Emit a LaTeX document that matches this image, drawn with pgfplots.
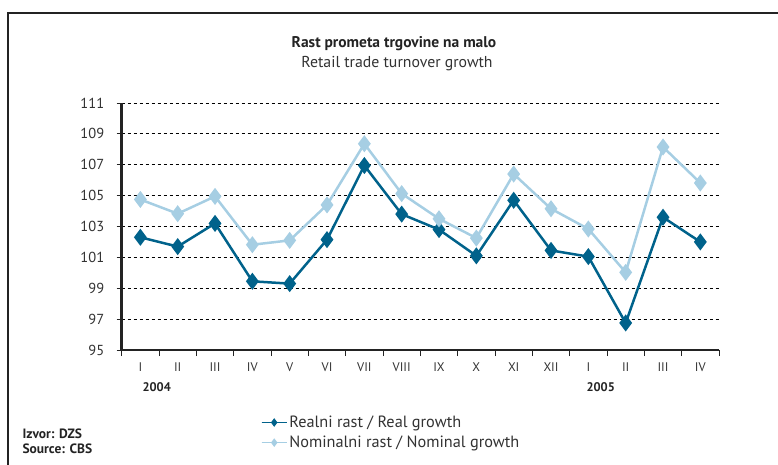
\documentclass[border=0pt]{standalone}
\usepackage{pgfplots}
\pgfplotsset{compat=1.18}
\usepackage{fontspec}
\setmainfont{PT Sans}
\definecolor{realc}{RGB}{0,98,139}
\definecolor{nomc}{RGB}{166,206,227}
\definecolor{axc}{RGB}{35,35,35}
\definecolor{txc}{RGB}{50,50,50}
\pgfplotstableread{
x real nom
0 102.3 104.75
1 101.7 103.83
2 103.2 104.95
3 99.45 101.82
4 99.3 102.1
5 102.15 104.4
6 106.95 108.36
7 103.8 105.13
8 102.8 103.5
9 101.1 102.25
10 104.7 106.4
11 101.45 104.15
12 101.05 102.84
13 96.75 100.03
14 103.6 108.15
15 102.0 105.82
}\datatable
\begin{document}
\begin{tikzpicture}[x=1pt,y=1pt]
\draw[line width=2.5pt, axc] (8,-30) -- (8,451) -- (820,451);
\node[font=\bfseries\fontsize{15.5}{17}\selectfont, text=axc] at (394,420) {Rast prometa trgovine na malo};
\node[font=\fontsize{15.8}{17}\selectfont, text=txc] at (397,400) {Retail trade turnover growth};
\begin{axis}[
  at={(121.7pt,114pt)}, anchor=south west,
  scale only axis, width=597.3pt, height=247pt,
  xmin=-0.5, xmax=15.5, ymin=95, ymax=111,
  axis x line*=bottom, axis y line*=left,
  axis line style={-, line width=2.5pt, axc},
  xtick={0,...,15},
  xticklabels={I,II,III,IV,V,VI,VII,VIII,IX,X,XI,XII,I,II,III,IV},
  major x tick style={draw=none},
  minor xtick={-0.5,0.5,...,15.5},
  minor x tick style={line width=1pt, axc},
  minor tick length=6pt,
  ytick={95,97,...,111},
  major y tick style={line width=1pt, axc},
  major tick length=5pt,
  tick align=outside,
  ymajorgrids,
  grid style={black, dashed, line width=0.8pt, dash pattern=on 3pt off 3pt},
  /pgf/number format/assume math mode=true,
  yticklabel style={font=\fontsize{14.5}{16}\selectfont, text=txc, xshift=-9pt},
  xticklabel style={font=\fontsize{12.5}{14}\selectfont, text=txc, yshift=-4pt},
  legend style={at={(0.228,-0.25)}, anchor=north west, draw=none, fill=none,
    font=\fontsize{16.3}{18}\selectfont, text=txc, row sep=3pt},
  legend cell align=left,
  legend image code/.code={\draw[#1, line width=1.3pt] (0pt,0pt) -- (25pt,0pt); \draw[#1, line width=1pt, mark size=3.5pt, mark repeat=2, mark phase=2] plot coordinates {(0pt,0pt) (12.5pt,0pt) (25pt,0pt)};},
]
\addplot[realc, line width=2.5pt, mark=diamond*, mark size=6.5pt, mark options={solid}] table[x=x, y=real] {\datatable};
\addlegendentry{Realni rast / Real growth}
\addplot[nomc, line width=2.5pt, mark=diamond*, mark size=6.5pt, mark options={solid}] table[x=x, y=nom] {\datatable};
\addlegendentry{Nominalni rast / Nominal growth}
\end{axis}
\node[anchor=west, font=\bfseries\fontsize{12.5}{14}\selectfont, text=axc] at (139,77) {2004};
\node[anchor=west, font=\bfseries\fontsize{12.5}{14}\selectfont, text=axc] at (583,77) {2005};
\node[anchor=west, font=\bfseries\fontsize{13.5}{14}\selectfont, text=axc] at (19,30) {Izvor: DZS};
\node[anchor=west, font=\bfseries\fontsize{13.5}{14}\selectfont, text=axc] at (19,15) {Source: CBS};
\pgfresetboundingbox
\path[use as bounding box] (0,0) rectangle (778,464);
\end{tikzpicture}
\end{document}
